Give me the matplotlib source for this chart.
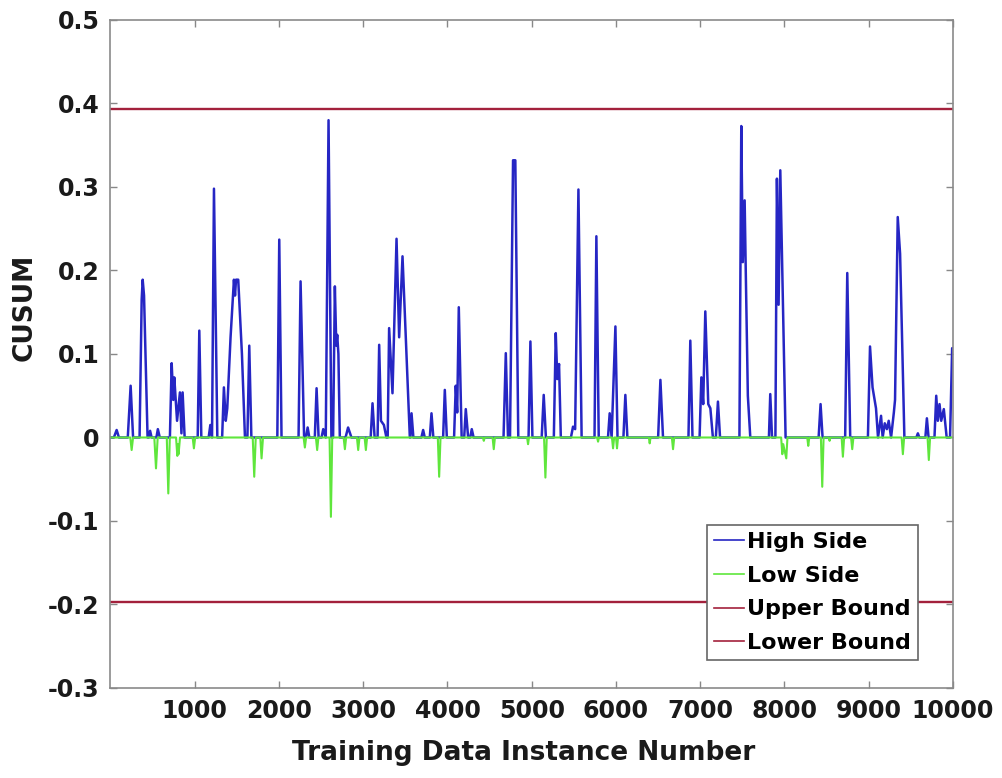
import numpy as np
import matplotlib
matplotlib.use('Agg')
import matplotlib.pyplot as plt

plt.rcParams['font.family'] = ['DejaVu Sans']
plt.rcParams['font.weight'] = 'bold'

# high side CUSUM, vertices
high_x = [0, 40, 73, 100,
          205, 239, 268, 345, 370, 382, 398, 440, 455, 470, 488, 545, 562, 585,
          705, 726, 745, 757, 790, 824, 842, 856, 880,
          1035, 1054, 1078, 1165, 1185, 1205, 1228, 1268,
          1325, 1346, 1368, 1386, 1425, 1465, 1478, 1490, 1516, 1560, 1596,
          1625, 1647, 1672, 1980, 2003, 2030, 2232, 2256, 2298,
          2320, 2340, 2360, 2425, 2446, 2470, 2505, 2525, 2555, 2588, 2622,
          2642, 2663, 2680, 2691, 2705, 2722, 2790, 2820, 2860,
          3088, 3110, 3135, 3170, 3189, 3210, 3245, 3275, 3290,
          3307, 3347, 3395, 3426, 3466, 3553, 3560, 3573, 3595,
          3690, 3711, 3730, 3790, 3810, 3832, 3948, 3968, 3992,
          4078, 4098, 4115, 4134, 4168, 4198, 4217, 4245, 4270, 4288, 4310,
          4665, 4692, 4718, 4742, 4778, 4805, 4840, 4962, 4984, 5008,
          5118, 5142, 5168, 5262, 5285, 5303, 5324, 5345,
          5465, 5490, 5515, 5554, 5592, 5745, 5767, 5795,
          5905, 5925, 5948, 5993, 6018, 6088, 6111, 6135, 6500, 6527, 6558,
          6860, 6882, 6908, 6992, 7013, 7035, 7060, 7095, 7120, 7150, 7185, 7210, 7235,
          7465, 7487, 7505, 7527, 7540, 7565, 7594, 7815, 7831, 7852,
          7892, 7910, 7930, 7950, 8013, 8405, 8428, 8452, 8720, 8745, 8780,
          8990, 9015, 9045, 9086, 9110, 9146, 9165, 9190, 9215, 9237, 9265, 9298,
          9312, 9344, 9372, 9423, 9565, 9583, 9600, 9672, 9690, 9710,
          9780, 9801, 9820, 9840, 9860, 9891, 9925, 9965, 9990, 10000]
high_y = [0, 0, 0.009, 0,
          0, 0.062, 0, 0, 0.165, 0.189, 0.170, 0, 0, 0.008, 0, 0, 0.010, 0,
          0, 0.089, 0.045, 0.072, 0.020, 0.054, 0.005, 0.054, 0,
          0, 0.128, 0, 0, 0.015, 0, 0.298, 0,
          0, 0.060, 0.020, 0.035, 0.120, 0.189, 0.170, 0.189, 0.189, 0.100, 0,
          0, 0.110, 0, 0, 0.237, 0, 0, 0.187, 0,
          0, 0.012, 0, 0, 0.059, 0, 0, 0.010, 0, 0.380, 0,
          0, 0.181, 0.110, 0.123, 0.100, 0, 0, 0.012, 0,
          0, 0.041, 0, 0, 0.111, 0.020, 0.015, 0, 0,
          0.131, 0.053, 0.238, 0.120, 0.217, 0, 0, 0.029, 0,
          0, 0.009, 0, 0, 0.029, 0, 0, 0.057, 0,
          0, 0.062, 0.030, 0.156, 0, 0, 0.034, 0, 0, 0.010, 0,
          0, 0.101, 0, 0, 0.332, 0.332, 0, 0, 0.115, 0,
          0, 0.051, 0, 0, 0.125, 0.070, 0.088, 0,
          0, 0.013, 0.010, 0.297, 0, 0, 0.241, 0,
          0, 0.029, 0, 0.133, 0, 0, 0.051, 0, 0, 0.069, 0,
          0, 0.116, 0, 0, 0.072, 0.040, 0.151, 0.040, 0.035, 0, 0, 0.043, 0,
          0, 0.373, 0.210, 0.284, 0.200, 0.050, 0, 0, 0.052, 0,
          0, 0.310, 0.159, 0.320, 0, 0, 0.040, 0, 0, 0.197, 0,
          0, 0.109, 0.060, 0.035, 0, 0.026, 0, 0.017, 0.010, 0.020, 0, 0.030,
          0.045, 0.264, 0.220, 0, 0, 0.005, 0, 0, 0.023, 0,
          0, 0.050, 0.020, 0.040, 0.020, 0.034, 0, 0, 0.107, 0.107]

# low side CUSUM
low_x = [0, 235, 251, 268, 520, 540, 560, 668, 686, 704, 778, 793, 800, 808, 825,
         975, 990, 1005, 1688, 1706, 1724, 1778, 1793, 1810, 2292, 2307, 2322,
         2438, 2453, 2468, 2600, 2616, 2632, 2767, 2782, 2797, 2925, 2940, 2955,
         3016, 3031, 3046, 3885, 3901, 3917, 4420, 4431, 4442, 4535, 4549, 4563,
         4945, 4956, 4967, 5146, 5162, 5178, 5776, 5787, 5798, 5952, 5965, 5978,
         6000, 6012, 6024, 6390, 6400, 6410, 6663, 6677, 6691, 7960, 7974, 7985,
         8021, 8035, 8270, 8282, 8294, 8432, 8448, 8464, 8525, 8535, 8545,
         8678, 8693, 8708, 8790, 8804, 8818, 9390, 9405, 9420, 9698, 9713, 9728, 10000]
low_y = [0, 0, -0.015, 0, 0, -0.037, 0, 0, -0.067, 0, 0, -0.022, -0.008, -0.020, 0,
         0, -0.013, 0, 0, -0.047, 0, 0, -0.025, 0, 0, -0.012, 0,
         0, -0.015, 0, 0, -0.095, 0, 0, -0.014, 0, 0, -0.015, 0,
         0, -0.015, 0, 0, -0.047, 0, 0, -0.004, 0, 0, -0.014, 0,
         0, -0.008, 0, 0, -0.048, 0, 0, -0.005, 0, 0, -0.013, 0,
         0, -0.013, 0, 0, -0.007, 0, 0, -0.014, 0, 0, -0.020, -0.008,
         -0.025, 0, 0, -0.010, 0, 0, -0.059, 0, 0, -0.004, 0,
         0, -0.023, 0, 0, -0.014, 0, 0, -0.020, 0, 0, -0.027, 0, 0]

upper_bound = 0.393
lower_bound = -0.197

x_ticks = [1000, 2000, 3000, 4000, 5000, 6000, 7000, 8000, 9000, 10000]
y_ticks = [-0.3, -0.2, -0.1, 0, 0.1, 0.2, 0.3, 0.4, 0.5]
y_labels = ['-0.3', '-0.2', '-0.1', '0', '0.1', '0.2', '0.3', '0.4', '0.5']

fig = plt.figure(figsize=(10.03, 7.78), dpi=100)
ax = fig.add_axes([110.5 / 1003, 1 - 688 / 778, 842.5 / 1003, 668 / 778])

ax.plot(high_x, high_y, color='#2626c4', lw=1.8, label='High Side')
ax.plot(low_x, low_y, color='#5fe63c', lw=1.5, label='Low Side')
ax.axhline(upper_bound, color='#a3213c', lw=1.7, label='Upper Bound')
ax.axhline(lower_bound, color='#a3213c', lw=1.7, label='Lower Bound')

ax.set_xlim(0, 10000)
ax.set_ylim(-0.3, 0.5)
ax.set_xticks(x_ticks)
ax.set_xticklabels([str(t) for t in x_ticks])
ax.set_yticks(y_ticks)
ax.set_yticklabels(y_labels)
ax.tick_params(direction='in', length=5, width=1, color='#888888',
               top=True, right=True, labelsize=17, labelcolor='#1a1a1a', pad=8)
for s in ax.spines.values():
    s.set_color('#8a8a8a')
    s.set_linewidth(1.2)

ax.set_xlabel('Training Data Instance Number', fontsize=19, fontweight='bold',
              color='#1a1a1a')
ax.xaxis.set_label_coords(0.49, -0.078)
ax.set_ylabel('CUSUM', fontsize=19, fontweight='bold', color='#1a1a1a')
ax.yaxis.set_label_coords(-0.087, 0.57)

leg = ax.legend(loc='lower right', bbox_to_anchor=(0.958, 0.042),
                prop={'weight': 'bold', 'size': 16}, handlelength=1.35,
                handletextpad=0.15, labelspacing=0.62, borderpad=0.3,
                fancybox=False, framealpha=1, borderaxespad=0)
leg.get_frame().set_edgecolor('#666666')
leg.get_frame().set_linewidth(1.2)
for h in leg.get_lines():
    h.set_linewidth(1.2)

fig.savefig('out.png', dpi=100)
